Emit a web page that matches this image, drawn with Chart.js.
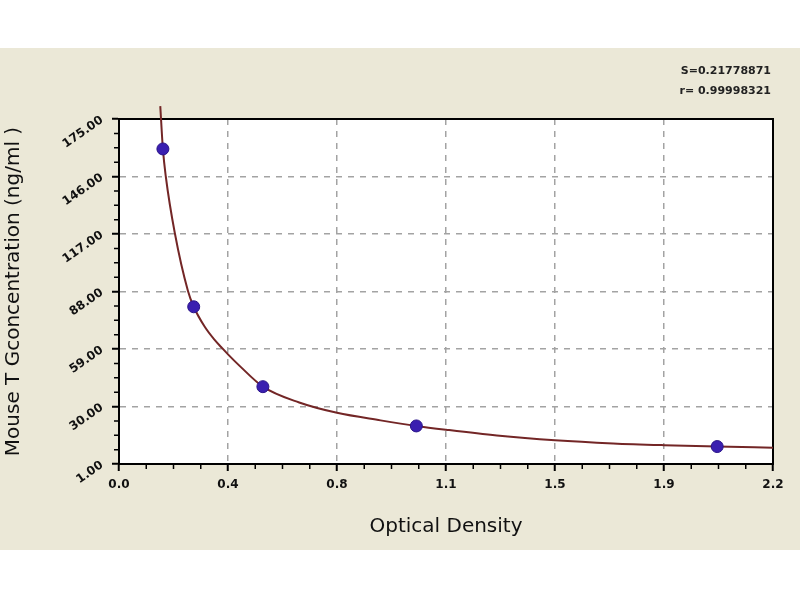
<!DOCTYPE html>
<html lang="en">
<head>
  <meta charset="UTF-8" />
  <title>Mouse TG standard curve</title>
  <script src="https://cdn.jsdelivr.net/npm/chart.js"></script>
  <style>
    body { margin: 0; background: #fff; }
    #panel { position: absolute; left: 0; top: 48px; width: 800px; height: 502px; background: #ebe8d7; }
  </style>
</head>
<body>

<div id="panel">
  <canvas id="curveChart" width="800" height="502"></canvas>
</div>

<script>
  // standard points (OD, concentration)
  const stdOD = [0.151, 0.257, 0.495, 1.023, 2.058];
  const stdConc = [159.9, 80.3, 40.0, 20.2, 9.8];

  // fitted curve
  const fitOD = [0.142, 0.151, 0.161, 0.192, 0.237, 0.257, 0.295, 0.329, 0.352, 0.375, 0.415, 0.495, 0.620, 0.750, 0.900, 1.023, 1.125, 1.300, 1.500, 1.700, 1.875, 2.058, 2.250];
  const fitConc = [181.5, 159.9, 146.0, 117.5, 88.4, 80.3, 70.2, 63.6, 59.9, 56.3, 50.5, 40.0, 32.0, 26.8, 23.0, 20.2, 18.3, 15.4, 13.0, 11.4, 10.5, 9.8, 9.2];

  const xTickLabels = ['0.0', '0.4', '0.8', '1.1', '1.5', '1.9', '2.2'];
  const yTickLabels = ['1.00', '30.00', '59.00', '88.00', '117.00', '146.00', '175.00'];
  const statLines = ['S=0.21778871', 'r= 0.99998321'];

  const plotBg = {
    id: 'plotBg',
    beforeDraw(chart) {
      const { ctx, chartArea: a } = chart;
      ctx.save();
      ctx.fillStyle = '#fff';
      ctx.fillRect(a.left, a.top, a.right - a.left, a.bottom - a.top);
      ctx.restore();
    },
    beforeDatasetsDraw(chart) {
      const { ctx, chartArea: a, scales } = chart;
      ctx.save();
      ctx.strokeStyle = '#000';
      ctx.lineWidth = 2;
      ctx.strokeRect(a.left, a.top, a.right - a.left, a.bottom - a.top);
      // minor ticks, 3 between each labelled tick
      ctx.lineWidth = 1.5;
      ctx.beginPath();
      const xs = scales.x, ys = scales.y;
      for (let i = 0; i < xs.ticks.length - 1; i++) {
        const v0 = xs.ticks[i].value, v1 = xs.ticks[i + 1].value;
        for (let k = 1; k < 4; k++) {
          const px = xs.getPixelForValue(v0 + (v1 - v0) * k / 4);
          ctx.moveTo(px, a.bottom);
          ctx.lineTo(px, a.bottom + 5);
        }
      }
      for (let i = 0; i < ys.ticks.length - 1; i++) {
        const v0 = ys.ticks[i].value, v1 = ys.ticks[i + 1].value;
        for (let k = 1; k < 4; k++) {
          const py = ys.getPixelForValue(v0 + (v1 - v0) * k / 4);
          ctx.moveTo(a.left, py);
          ctx.lineTo(a.left - 5, py);
        }
      }
      ctx.stroke();
      ctx.restore();
    },
    afterDraw(chart) {
      const ctx = chart.ctx;
      ctx.save();
      ctx.fillStyle = '#222';
      ctx.font = 'bold 11px "DejaVu Sans", sans-serif';
      ctx.textAlign = 'right';
      ctx.textBaseline = 'middle';
      ctx.fillText(statLines[0], 771, 23);
      ctx.fillText(statLines[1], 771, 43);
      ctx.restore();
    }
  };

  const tickFont = { family: '"DejaVu Sans", sans-serif', size: 12, weight: 'bold' };
  const titleFont = { family: '"DejaVu Sans", sans-serif', size: 20, weight: 'normal' };

  new Chart(document.getElementById('curveChart'), {
    type: 'scatter',
    data: {
      datasets: [
        {
          type: 'line',
          data: fitOD.map((x, i) => ({ x, y: fitConc[i] })),
          borderColor: '#732626',
          borderWidth: 2,
          pointRadius: 0,
          cubicInterpolationMode: 'monotone',
          clip: false,
          order: 2
        },
        {
          data: stdOD.map((x, i) => ({ x, y: stdConc[i] })),
          backgroundColor: '#3a1fb0',
          borderColor: '#2a148a',
          borderWidth: 1,
          pointRadius: 6,
          order: 1
        }
      ]
    },
    options: {
      responsive: false,
      animation: false,
      layout: { padding: { left: 0, top: 71, right: 27, bottom: 0 } },
      plugins: { legend: { display: false }, tooltip: { enabled: false } },
      scales: {
        x: {
          type: 'linear',
          min: 0, max: 2.25,
          afterFit: s => { s.height = 86; },
          ticks: {
            stepSize: 0.375,
            color: '#111',
            font: tickFont,
            padding: 7,
            maxRotation: 0,
            callback: (v, i) => xTickLabels[i]
          },
          grid: { color: '#a3a3a3', lineWidth: 1.5, tickLength: 7, tickColor: '#000', tickWidth: 2 },
          border: { display: true, color: '#000', width: 2, dash: [6, 6] },
          title: { display: true, text: 'Optical Density', color: '#111', font: titleFont, padding: { top: 0, bottom: 11 } }
        },
        y: {
          type: 'linear',
          min: 1, max: 175,
          afterFit: s => { s.width = 119; },
          ticks: {
            stepSize: 29,
            color: '#111',
            font: tickFont,
            padding: 10,
            minRotation: 35,
            maxRotation: 35,
            callback: (v, i) => yTickLabels[i]
          },
          grid: { color: '#a3a3a3', lineWidth: 1.5, tickLength: 7, tickColor: '#000', tickWidth: 2 },
          border: { display: true, color: '#000', width: 2, dash: [6, 6] },
          title: { display: true, text: 'Mouse T Gconcentration (ng/ml )', color: '#111', font: titleFont, padding: { top: 2, bottom: 0 } }
        }
      }
    },
    plugins: [plotBg]
  });
</script>
</body>
</html>
